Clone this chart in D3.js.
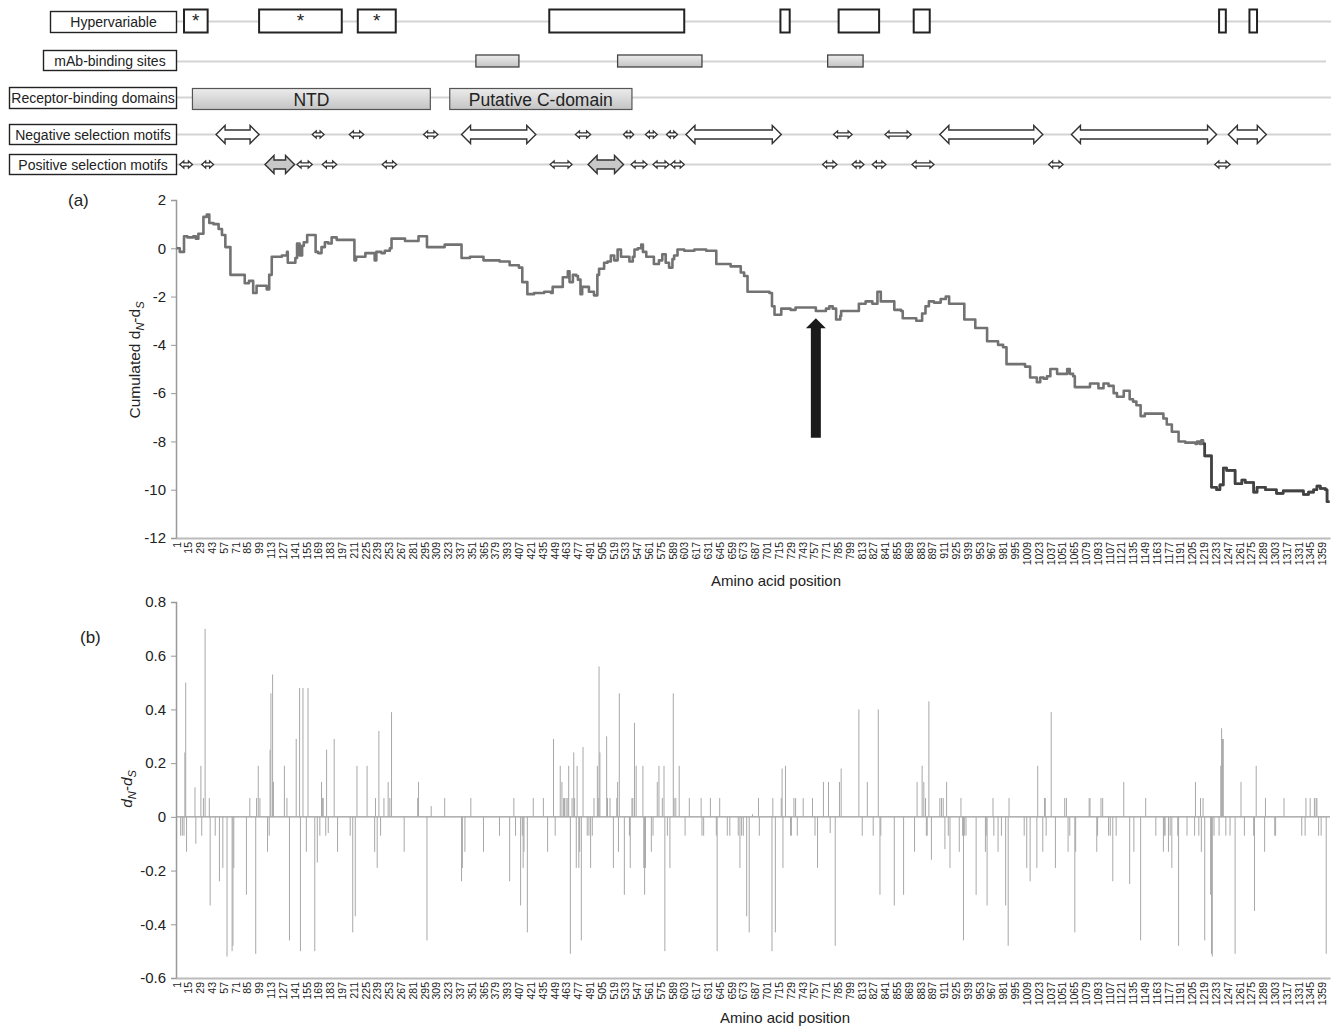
<!DOCTYPE html>
<html lang="en">
<head>
<meta charset="UTF-8">
<title>Cumulated dN-dS along the spike protein</title>
<script src="https://d3js.org/d3.v7.min.js"></script>
<style>
  body { margin: 0; background: #fff; }
  svg text { font-family: "Liberation Sans", Arial, Helvetica, sans-serif; fill: #222; }
</style>
</head>
<body>
<svg id="chart" width="1335" height="1026"></svg>
<script>
// ---- data (residue positions) ----
const N_RES = 1368;
const xTicks = d3.range(1, N_RES, 14);               // 1, 15, 29 ... 1359
const yTicksA = [-12, -10, -8, -6, -4, -2, 0, 2];
const yTicksB = [-0.6, -0.4, -0.2, 0, 0.2, 0.4, 0.6, 0.8];

const trackNames = ["Hypervariable", "mAb-binding sites", "Receptor-binding domains",
                    "Negative selection motifs", "Positive selection motifs"];

const hyperStart = [10, 99, 216, 443, 717, 786, 875, 1237, 1273];
const hyperEnd   = [38, 197, 261, 603, 728, 834, 894, 1245, 1282];
const hyperMark  = ["*", "*", "*", "", "", "", "", "", ""];

const mabStart = [356, 524, 773];
const mabEnd   = [407, 624, 815];

const domainNames = ["NTD", "Putative C-domain"];
const domainStart = [20, 325];
const domainEnd   = [302, 541];

const negStart = [48, 162, 206, 294, 339, 474, 531, 557, 582, 605, 780, 841, 906, 1062, 1248];
const negEnd   = [99, 176, 223, 311, 427, 492, 543, 571, 595, 718, 802, 872, 1028, 1234, 1293];

const posStart = [5, 31, 106, 144, 174, 245, 444, 489, 540, 566, 587, 767, 802, 826, 873, 1035, 1232];
const posEnd   = [20, 45, 141, 162, 191, 262, 470, 531, 559, 585, 603, 784, 816, 842, 899, 1052, 1250];

// (a) cumulated dN-dS, step changes
const cumPos = [1, 5, 10, 14, 21, 24, 27, 33, 37, 40, 45, 51, 55, 59, 65, 82, 87, 92, 96, 108,
  111, 114, 126, 132, 133, 142, 144, 147, 150, 152, 156, 166, 169, 173, 177, 181, 185, 191, 212, 214,
  225, 236, 238, 244, 248, 254, 256, 272, 288, 298, 319, 339, 349, 365, 384, 396, 407, 411, 417, 425,
  437, 445, 447, 459, 465, 467, 471, 475, 477, 480, 482, 490, 496, 500, 502, 508, 512, 516, 520, 524,
  528, 538, 542, 544, 548, 552, 554, 558, 567, 573, 577, 581, 585, 589, 591, 595, 603, 615, 629, 641,
  658, 670, 674, 678, 704, 707, 710, 718, 729, 735, 759, 771, 775, 779, 783, 788, 789, 810, 818, 826,
  832, 836, 852, 860, 862, 878, 885, 889, 893, 899, 907, 913, 917, 935, 948, 962, 975, 981, 985, 1007,
  1013, 1021, 1025, 1029, 1033, 1037, 1045, 1057, 1060, 1064, 1066, 1084, 1094, 1100, 1106, 1112, 1116, 1124, 1131, 1135,
  1139, 1144, 1149, 1171, 1175, 1181, 1189, 1197, 1209, 1211, 1214, 1216, 1218, 1220, 1228, 1234, 1238, 1242, 1246, 1256,
  1264, 1268, 1278, 1282, 1292, 1305, 1313, 1337, 1343, 1349, 1353, 1357, 1363, 1365, 1368];
const cumVal = [0, -0.15, 0.5, 0.45, 0.5, 0.4, 0.6, 1.3, 1.4, 1.05, 1.0, 0.8, 0.55, 0.05, -1.1, -1.45, -1.35, -1.85, -1.55, -1.7,
  -1.1, -0.35, -0.3, -0.15, -0.6, -0.4, 0.2, -0.3, 0.1, 0.25, 0.55, -0.15, -0.2, 0.05, 0.25, 0.2, 0.45, 0.35, -0.5, -0.35,
  -0.2, -0.5, -0.15, -0.2, -0.1, 0, 0.4, 0.3, 0.5, 0.05, 0.15, -0.4, -0.35, -0.5, -0.55, -0.7, -0.8, -1.4, -1.9, -1.85,
  -1.8, -1.85, -1.6, -1.2, -0.95, -1.4, -1.1, -1.15, -1.3, -1.9, -1.6, -1.8, -1.95, -1.1, -0.85, -0.6, -0.55, -0.3, -0.5, -0.05,
  -0.35, -0.55, -0.35, -0.05, 0, 0.15, -0.15, -0.35, -0.65, -0.5, -0.25, -0.6, -0.8, -0.45, -0.3, -0.05, -0.1, -0.05, -0.1, -0.65,
  -0.75, -1.0, -1.15, -1.8, -1.85, -2.4, -2.75, -2.5, -2.55, -2.45, -2.6, -2.5, -2.4, -2.5, -2.95, -2.8, -2.6, -2.3, -2.2, -2.3,
  -1.8, -2.2, -2.55, -2.6, -2.9, -3.0, -2.7, -2.4, -2.2, -2.25, -2.1, -2.0, -2.3, -2.95, -3.3, -3.85, -4.0, -4.1, -4.8, -4.9,
  -5.35, -5.55, -5.35, -5.4, -5.3, -5.0, -5.2, -5.0, -5.2, -5.3, -5.75, -5.6, -5.8, -5.6, -5.7, -6.0, -6.15, -5.9, -6.25, -6.35,
  -6.5, -6.95, -6.85, -7.05, -7.3, -7.6, -8.0, -8.05, -8.1, -8.0, -8.1, -7.95, -8.1, -8.6, -9.9, -10.0, -9.8, -9.1, -9.2, -9.75,
  -9.6, -9.7, -10.1, -9.9, -10.0, -10.15, -10.05, -10.2, -10.1, -10.0, -9.85, -9.95, -10.0, -10.5, -10.5];

// arrow annotation in (a)
const arrowPos = 759, arrowTop = -2.9, arrowBase = -7.85;

// (b) per-site dN-dS
const barPos = [6, 8, 10, 11, 12, 13, 23, 24, 30, 31, 33, 35, 40, 41, 47, 52, 56, 61, 67, 68,
  69, 84, 88, 95, 96, 98, 100, 109, 111, 112, 113, 115, 116, 129, 132, 135, 143, 147, 148, 151,
  155, 157, 165, 168, 171, 173, 174, 175, 178, 179, 181, 188, 192, 207, 210, 213, 215, 227, 236, 237,
  239, 241, 243, 247, 252, 254, 256, 271, 287, 288, 298, 303, 319, 339, 340, 343, 350, 365, 384, 396,
  401, 403, 409, 411, 412, 413, 417, 424, 436, 441, 448, 450, 456, 458, 460, 461, 463, 465, 466, 468,
  470, 472, 473, 475, 476, 478, 479, 481, 483, 488, 490, 492, 494, 496, 500, 501, 502, 503, 511, 512,
  515, 519, 523, 524, 525, 526, 532, 538, 539, 541, 542, 544, 546, 554, 555, 556, 557, 564, 566, 571,
  573, 577, 579, 580, 583, 586, 590, 591, 593, 597, 604, 609, 623, 624, 626, 634, 641, 642, 645, 654,
  657, 667, 669, 671, 673, 677, 680, 684, 691, 692, 707, 708, 711, 718, 719, 720, 723, 729, 730, 733,
  735, 737, 744, 755, 758, 761, 768, 774, 776, 782, 787, 789, 810, 814, 820, 827, 833, 835, 836, 852,
  863, 876, 879, 885, 887, 889, 890, 891, 893, 896, 906, 908, 910, 912, 914, 916, 918, 929, 931, 933,
  934, 935, 937, 949, 960, 961, 962, 969, 970, 975, 979, 984, 987, 988, 1006, 1009, 1013, 1021, 1022, 1028,
  1030, 1031, 1032, 1038, 1043, 1054, 1056, 1058, 1060, 1066, 1067, 1083, 1084, 1092, 1093, 1097, 1099, 1106, 1108, 1111,
  1115, 1124, 1131, 1136, 1144, 1150, 1162, 1171, 1172, 1173, 1177, 1179, 1181, 1188, 1189, 1199, 1208, 1209, 1213, 1215,
  1216, 1218, 1220, 1227, 1228, 1229, 1231, 1237, 1239, 1240, 1241, 1242, 1245, 1250, 1256, 1263, 1267, 1278, 1279, 1281,
  1291, 1292, 1303, 1304, 1314, 1335, 1339, 1340, 1345, 1350, 1352, 1353, 1355, 1358, 1364];
const barVal = [-0.07, -0.07, -0.07, 0.24, 0.5, -0.13, 0.11, -0.1, 0.19, -0.07, 0.07, 0.7, 0.07, -0.33, -0.07, -0.24, -0.19, -0.52, -0.5, -0.48,
  -0.19, -0.29, 0.07, -0.51, 0.07, 0.19, 0.07, -0.13, -0.07, 0.25, 0.46, 0.53, 0.13, 0.19, 0.07, -0.46, 0.29, 0.48, -0.5, 0.48,
  -0.13, 0.48, -0.5, -0.17, -0.07, 0.13, 0.07, 0.07, -0.07, 0.25, -0.06, 0.29, -0.13, -0.07, -0.43, -0.37, 0.19, 0.19, -0.13, 0.07,
  -0.19, 0.32, -0.07, 0.07, 0.13, 0.07, 0.39, -0.13, 0.07, 0.13, -0.46, 0.04, 0.07, -0.24, -0.19, -0.13, 0.07, -0.13, -0.07, -0.24,
  0.07, -0.07, -0.33, -0.07, -0.19, -0.13, -0.43, 0.07, 0.07, -0.13, 0.29, -0.07, 0.19, 0.13, 0.07, 0.07, 0.07, 0.07, 0.19, -0.51,
  0.07, 0.24, 0.07, -0.19, 0.19, -0.19, -0.13, -0.46, 0.26, -0.07, -0.07, -0.19, -0.07, 0.07, 0.19, 0.07, 0.56, 0.24, 0.3, 0.07,
  0.07, -0.19, 0.07, 0.13, -0.13, 0.46, -0.29, -0.07, -0.19, 0.07, 0.07, 0.35, 0.19, 0.19, -0.19, -0.29, -0.19, -0.13, -0.07, 0.13,
  0.19, 0.07, 0.19, -0.5, -0.07, -0.19, 0.46, 0.07, 0.07, 0.19, -0.07, 0.07, 0.07, -0.07, -0.07, 0.07, -0.07, -0.5, 0.07, -0.07,
  -0.07, -0.07, -0.19, -0.07, -0.07, -0.37, -0.43, 0.01, 0.07, -0.07, -0.5, 0.07, -0.43, 0.07, 0.18, -0.19, 0.19, -0.07, -0.07, 0.07,
  0.07, -0.07, 0.07, 0.07, -0.07, -0.19, 0.13, 0.13, -0.06, -0.48, 0.13, 0.18, 0.4, -0.07, 0.13, -0.07, 0.4, -0.29, -0.07, -0.33,
  -0.29, -0.13, 0.13, 0.19, 0.13, 0.07, -0.07, -0.07, 0.43, -0.16, 0.07, 0.07, 0.07, -0.12, 0.13, -0.07, -0.19, -0.13, 0.07, -0.07,
  -0.46, -0.07, -0.07, -0.29, -0.13, -0.07, -0.33, 0.07, -0.07, -0.13, -0.07, -0.33, -0.48, 0.07, -0.07, -0.19, -0.24, -0.19, 0.19, -0.13,
  0.07, 0.07, -0.07, 0.39, -0.19, 0.07, 0.07, -0.13, -0.07, -0.43, -0.13, 0.07, 0.07, -0.13, -0.07, 0.07, 0.07, -0.07, -0.07, -0.24,
  -0.07, 0.13, -0.25, -0.13, -0.46, 0.07, -0.07, -0.13, -0.07, -0.07, -0.13, -0.07, -0.19, -0.07, -0.48, -0.07, -0.07, 0.13, -0.07, 0.07,
  -0.13, 0.07, -0.46, -0.29, -0.51, -0.52, -0.07, -0.07, 0.19, 0.33, 0.29, 0.29, -0.07, -0.07, -0.51, 0.13, -0.07, -0.07, -0.35, 0.19,
  -0.13, 0.07, -0.07, -0.07, 0.07, -0.07, -0.07, 0.07, 0.07, 0.07, 0.07, 0.07, -0.07, -0.07, -0.51];

// ---- drawing ----
const svg = d3.select("#chart");
svg.append("rect").attr("width", 1335).attr("height", 1026).attr("fill", "#fff");

const x = d3.scaleLinear().domain([0.5, N_RES + 0.5]).range([176, 1330]);
const yA = d3.scaleLinear().domain([-12, 2]).range([538, 200]);
const yB = d3.scaleLinear().domain([-0.6, 0.8]).range([978, 602]);

// --- feature tracks ---
const rows = [
  {box: [50, 11, 126, 21], y: 21.5},
  {box: [43, 50, 133, 20], y: 61.5},
  {box: [9, 87, 167, 21], y: 97.5},
  {box: [9, 124, 167, 20], y: 134.5},
  {box: [9, 154, 167, 20], y: 164.5}
];
const tracks = svg.append("g");
rows.forEach((r, i) => {
  tracks.append("line")
    .attr("x1", r.box[0] + r.box[2]).attr("x2", i === 1 ? 1326 : 1331)
    .attr("y1", r.y).attr("y2", r.y)
    .attr("stroke", "#d4d4d4").attr("stroke-width", 2);
  tracks.append("rect")
    .attr("x", r.box[0] + 0.5).attr("y", r.box[1] + 0.5)
    .attr("width", r.box[2]).attr("height", r.box[3])
    .attr("fill", "#fff").attr("stroke", "#222").attr("stroke-width", 1.4);
  tracks.append("text")
    .attr("x", r.box[0] + r.box[2] / 2 + 0.5).attr("y", r.box[1] + r.box[3] / 2 + 5.5)
    .attr("text-anchor", "middle").attr("font-size", 14)
    .text(trackNames[i]);
});

const defs = svg.append("defs");
const grad = defs.append("linearGradient").attr("id", "boxGrad")
  .attr("x1", 0).attr("y1", 0).attr("x2", 0).attr("y2", 1);
grad.append("stop").attr("offset", "0%").attr("stop-color", "#ececec");
grad.append("stop").attr("offset", "100%").attr("stop-color", "#c4c4c4");

// hypervariable regions
hyperStart.forEach((s, i) => {
  const x0 = x(s), x1 = x(hyperEnd[i]);
  tracks.append("rect").attr("x", x0).attr("y", 9.5)
    .attr("width", x1 - x0).attr("height", 23)
    .attr("fill", "#fff").attr("stroke", "#222").attr("stroke-width", 2);
  if (hyperMark[i]) {
    tracks.append("text").attr("x", (x0 + x1) / 2).attr("y", 27)
      .attr("text-anchor", "middle").attr("font-size", 19).text(hyperMark[i]);
  }
});

// mAb-binding sites
mabStart.forEach((s, i) => {
  tracks.append("rect").attr("x", x(s)).attr("y", 55)
    .attr("width", x(mabEnd[i]) - x(s)).attr("height", 12)
    .attr("fill", "url(#boxGrad)").attr("stroke", "#444").attr("stroke-width", 1.3);
});

// receptor-binding domains
domainStart.forEach((s, i) => {
  const x0 = x(s), x1 = x(domainEnd[i]);
  tracks.append("rect").attr("x", x0).attr("y", 88.5)
    .attr("width", x1 - x0).attr("height", 21)
    .attr("fill", "url(#boxGrad)").attr("stroke", "#555").attr("stroke-width", 1.2);
  tracks.append("text").attr("x", (x0 + x1) / 2).attr("y", 105.5)
    .attr("text-anchor", "middle").attr("font-size", 17.5).text(domainNames[i]);
});

// double-headed block arrows
function dblArrow(x0, x1, cy, big) {
  const H = big ? 9 : 3.5, h = big ? 4.5 : 1.6;
  const L = Math.min(big ? 9 : 4, (x1 - x0) / 3);
  return [[x0, cy], [x0 + L, cy - H], [x0 + L, cy - h], [x1 - L, cy - h], [x1 - L, cy - H],
          [x1, cy], [x1 - L, cy + H], [x1 - L, cy + h], [x0 + L, cy + h], [x0 + L, cy + H]]
    .map(p => p.join(",")).join(" ");
}
function drawMotifs(starts, ends, cy, grayBig) {
  starts.forEach((s, i) => {
    const big = ends[i] - s >= 33;
    tracks.append("polygon")
      .attr("points", dblArrow(x(s), x(ends[i]), cy, big))
      .attr("fill", big && grayBig ? "#c8c8c8" : "#fff")
      .attr("stroke", "#333").attr("stroke-width", big ? 1.4 : 1.3)
      .attr("stroke-linejoin", "miter");
  });
}
drawMotifs(negStart, negEnd, 134.5, false);
drawMotifs(posStart, posEnd, 164.5, true);

// --- panel (a) ---
const gA = svg.append("g");
const axA = gA.append("g").attr("transform", "translate(176,0)")
  .call(d3.axisLeft(yA).tickValues(yTicksA).tickSize(5).tickPadding(5).tickFormat(d => String(d)));
axA.select(".domain").attr("stroke", "#999").attr("stroke-width", 1.5);
axA.selectAll(".tick line").attr("stroke", "#999");
axA.selectAll(".tick text").attr("font-size", 15).attr("fill", "#222");

function bottomAxis(g, yPos) {
  const ax = g.append("g").attr("transform", `translate(0,${yPos})`)
    .call(d3.axisBottom(x).tickValues(xTicks).tickSize(0).tickFormat(d3.format("d")));
  ax.select(".domain").attr("stroke", "#bbb").attr("stroke-width", 2);
  ax.selectAll(".tick text")
    .attr("transform", "rotate(-90)")
    .attr("x", -4).attr("y", 0).attr("dy", "0.35em")
    .attr("text-anchor", "end").attr("font-size", 10.5).attr("fill", "#333");
}
bottomAxis(gA, 538);

const cumData = cumPos.map((p, i) => ({p, v: cumVal[i]}));
const stepLine = d3.line().x(d => x(d.p)).y(d => yA(d.v)).curve(d3.curveStepAfter);
gA.append("path").datum(cumData)
  .attr("d", stepLine).attr("fill", "none")
  .attr("stroke", "#727272").attr("stroke-width", 2.6).attr("stroke-linejoin", "round");
gA.append("path").datum(cumData.filter(d => d.p >= 1218))
  .attr("d", stepLine).attr("fill", "none")
  .attr("stroke", "#424242").attr("stroke-width", 2.6).attr("stroke-linejoin", "round");

// black arrow
const ax0 = x(arrowPos), tipY = yA(arrowTop), baseY = yA(arrowBase);
gA.append("polygon")
  .attr("points", [[ax0, tipY], [ax0 + 10, tipY + 10], [ax0 + 5, tipY + 10], [ax0 + 5, baseY],
                   [ax0 - 5, baseY], [ax0 - 5, tipY + 10], [ax0 - 10, tipY + 10]].map(p => p.join(",")).join(" "))
  .attr("fill", "#1a1a1a");

gA.append("text").attr("x", 68).attr("y", 206).attr("font-size", 17).text("(a)");
gA.append("text").attr("x", 776).attr("y", 586).attr("text-anchor", "middle")
  .attr("font-size", 15).text("Amino acid position");
const tA = gA.append("text").attr("transform", "translate(140,360) rotate(-90)")
  .attr("text-anchor", "middle").attr("font-size", 15.5);
tA.append("tspan").text("Cumulated d");
tA.append("tspan").attr("font-style", "italic").attr("font-size", 11).attr("dy", 4).text("N");
tA.append("tspan").attr("dy", -4).text("-d");
tA.append("tspan").attr("font-style", "italic").attr("font-size", 11).attr("dy", 4).text("S");

// --- panel (b) ---
const gB = svg.append("g");
const axB = gB.append("g").attr("transform", "translate(176,0)")
  .call(d3.axisLeft(yB).tickValues(yTicksB).tickSize(5).tickPadding(5)
    .tickFormat(d => Math.abs(d) < 1e-9 ? "0" : d.toFixed(1)));
axB.select(".domain").attr("stroke", "#999").attr("stroke-width", 1.5);
axB.selectAll(".tick line").attr("stroke", "#999");
axB.selectAll(".tick text").attr("font-size", 15).attr("fill", "#222");
bottomAxis(gB, 978);

gB.append("line").attr("x1", 176).attr("x2", 1330)
  .attr("y1", yB(0)).attr("y2", yB(0)).attr("stroke", "#999").attr("stroke-width", 1.2);

gB.selectAll("rect.bar").data(barPos.map((p, i) => ({p, v: barVal[i]})))
  .join("rect").attr("class", "bar")
  .attr("x", d => x(d.p) - 0.5).attr("width", 1)
  .attr("y", d => Math.min(yB(0), yB(d.v)))
  .attr("height", d => Math.abs(yB(d.v) - yB(0)))
  .attr("fill", "#a8a8a8");

gB.append("text").attr("x", 80).attr("y", 643).attr("font-size", 17).text("(b)");
gB.append("text").attr("x", 785).attr("y", 1023).attr("text-anchor", "middle")
  .attr("font-size", 15).text("Amino acid position");
const tB = gB.append("text").attr("transform", "translate(132,789) rotate(-90)")
  .attr("text-anchor", "middle").attr("font-size", 15.5).attr("font-style", "italic");
tB.append("tspan").text("d");
tB.append("tspan").attr("font-size", 11).attr("dy", 4).text("N");
tB.append("tspan").attr("dy", -4).text("-d");
tB.append("tspan").attr("font-size", 11).attr("dy", 4).text("S");
</script>
</body>
</html>
